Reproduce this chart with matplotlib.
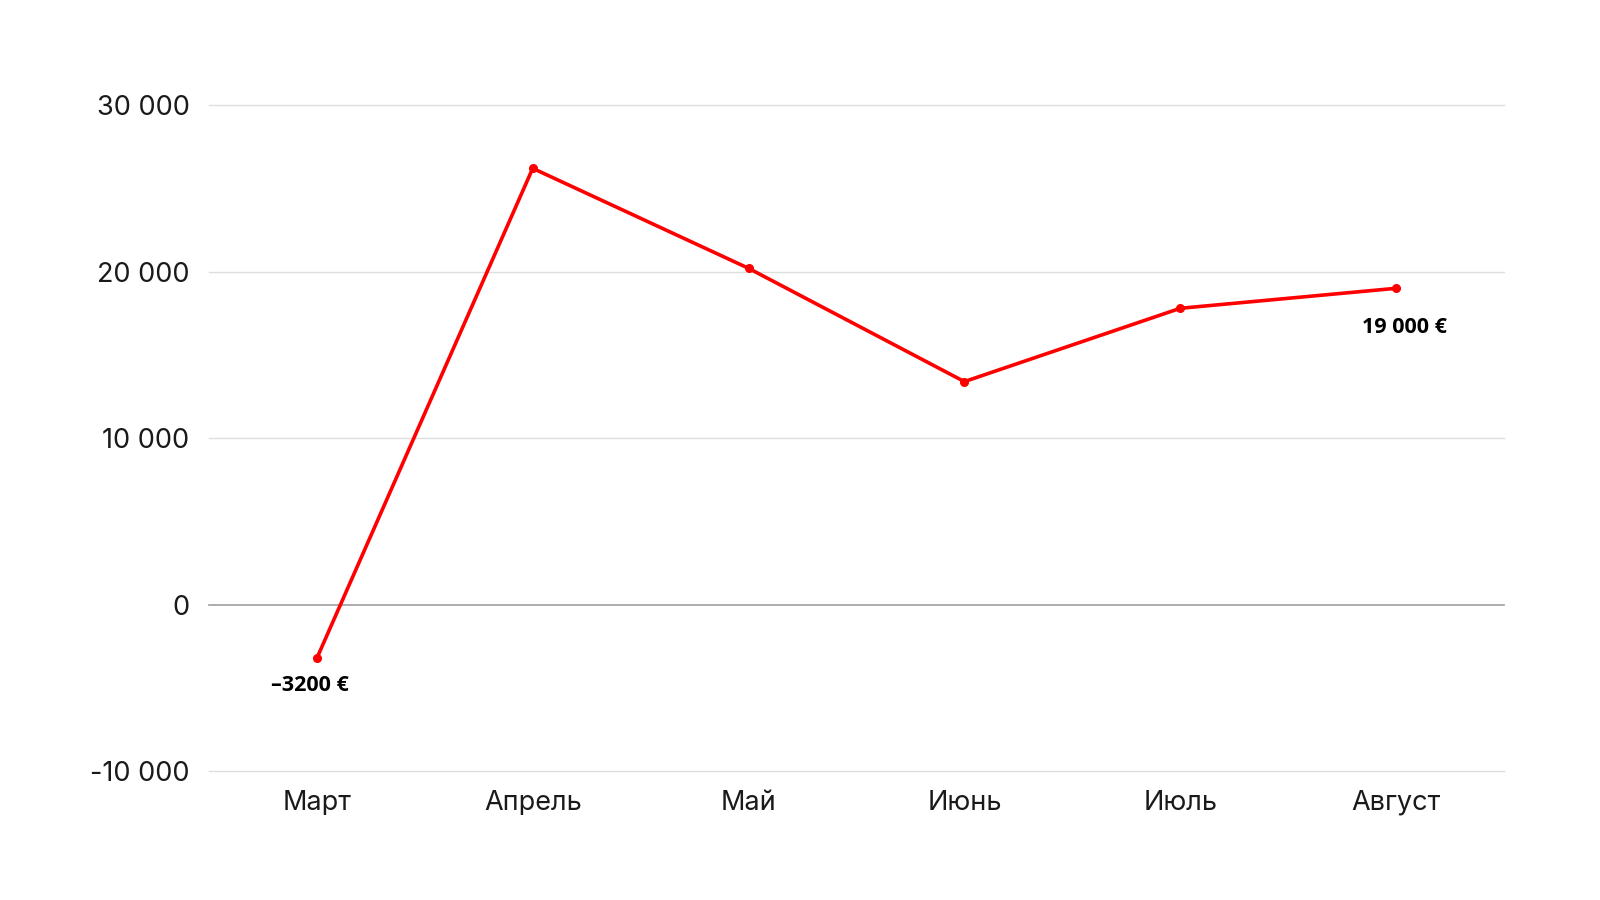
import matplotlib
matplotlib.use("Agg")
import matplotlib.pyplot as plt
from matplotlib.ticker import FuncFormatter

months = ["Март", "Апрель", "Май", "Июнь", "Июль", "Август"]
values = [-3200, 26200, 20200, 13400, 17800, 19000]
yticks = [-10000, 0, 10000, 20000, 30000]
label_first = "–3200 €"
label_last = "19 000 €"

fig = plt.figure(figsize=(16, 9), dpi=100)
ax = fig.add_axes([0.1306, 0.1428, 0.8094, 0.7405])

x = list(range(len(months)))
ax.plot(x, values, color="#ff0000", lw=2.6, marker="o", ms=5.5, zorder=3)

ax.set_xlim(-0.5, len(months) - 0.5)
ax.set_ylim(-10000, 30000)
ax.set_yticks(yticks)
ax.yaxis.set_major_formatter(FuncFormatter(lambda v, p: f"{int(v):,}".replace(",", " ")))
for t in yticks:
    ln = ax.axhline(t, color="#9e9e9e" if t == 0 else "#dddddd", lw=1.2 if t == 0 else 1.0, zorder=1)
    ln.set_clip_on(False)

ax.set_xticks(x)
ax.set_xticklabels(months)
for s in ax.spines.values():
    s.set_visible(False)
ax.tick_params(axis="both", length=0, labelsize=19.5, colors="#1a1a1a")
ax.tick_params(axis="y", pad=14)
ax.tick_params(axis="x", pad=13)
for lbl in ax.get_xticklabels() + ax.get_yticklabels():
    lbl.set_fontfamily(["Inter", "DejaVu Sans"])
    lbl.set_fontweight("normal")

ax.annotate(label_first, (x[0], values[0]), xytext=(-5, -20), textcoords="offset points",
            ha="center", va="center", fontsize=15.5, fontweight="bold", family=["Open Sans", "DejaVu Sans"])
ax.annotate(label_last, (x[-1], values[-1]), xytext=(6, -28), textcoords="offset points",
            ha="center", va="center", fontsize=15.5, fontweight="bold", family=["Open Sans", "DejaVu Sans"])

fig.savefig("out.png", dpi=100, facecolor="white")
